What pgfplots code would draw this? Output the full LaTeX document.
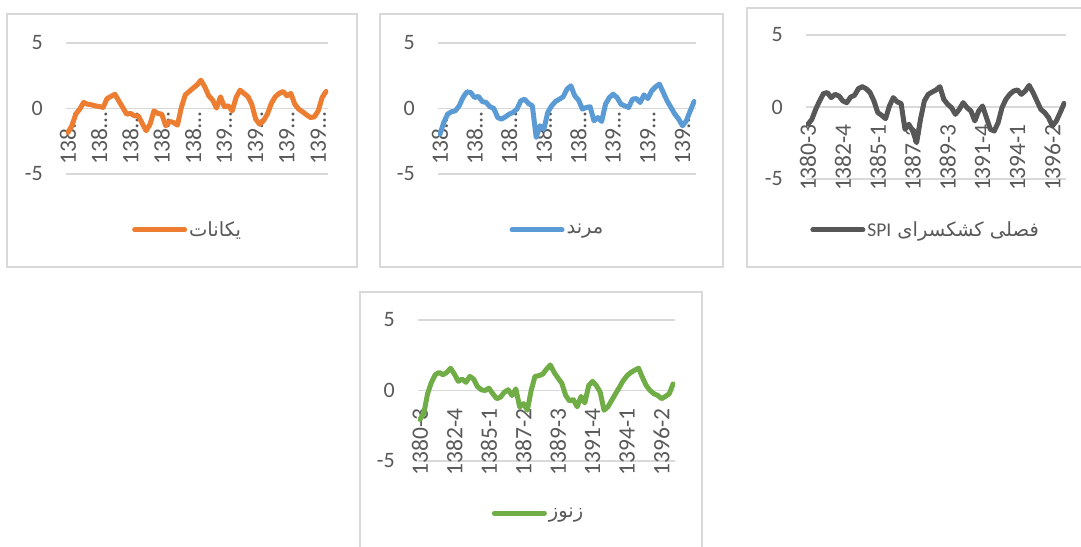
\documentclass[border=0pt]{standalone}
\usepackage{fontspec}
\setmainfont{Carlito}
\newfontfamily\arabicfont[Script=Arabic]{DejaVu Sans}
\usepackage{pgfplots}
\pgfplotsset{compat=1.18}
\TeXXeTstate=1
\definecolor{cOrange}{HTML}{ED7D31}
\definecolor{cBlue}{HTML}{5B9BD5}
\definecolor{cGray}{HTML}{575757}
\definecolor{cGreen}{HTML}{70AD47}
\definecolor{gridc}{HTML}{D9D9D9}
\definecolor{txt}{HTML}{595959}
\newcommand\tfont{\fontsize{22bp}{25bp}\selectfont}
\newcommand\xfont{\fontsize{23.5bp}{26bp}\selectfont}
\pgfplotsset{
  panel/.style={
    scale only axis,
    axis x line*=middle, axis y line*=left,
    axis line style={draw=none},
    hide obscured x ticks=false, hide obscured y ticks=false,
    major tick length=0pt,
    ymin=-5, ymax=5, xmin=-0.5, xmax=66.5,
    ytick={-5,0,5}, yticklabels={-5,0,5},
    ymajorgrids, grid style={gridc, line width=1.3bp},
    tick label style={font=\tfont, text=txt},
    x tick label style={font=\xfont},
    yticklabel style={inner sep=0pt, anchor=east, xshift=-23bp},
    legend style={draw=none, fill=none, font=\fontsize{19.5bp}{22bp}\selectfont\arabicfont, text=txt, anchor=center},
    legend image code/.code={\draw[#1, line width=5bp, line cap=round] (0bp,0bp) -- (50bp,0bp);},
    every axis plot/.append style={line width=5bp, line join=round, line cap=round, mark=none},
  }
}
\begin{document}
\begin{tikzpicture}[x=1bp,y=1bp]
\useasboundingbox (0,0) rectangle (1081,547);
\clip (0,0) rectangle (1081,547);
\fill[white] (0,0) rectangle (1081,547);
\draw[gridc, line width=1.2bp] (7,280) rectangle (357,533);
\draw[gridc, line width=1.2bp] (380,280) rectangle (723,533);
\draw[gridc, line width=1.2bp] (747,280) rectangle (1095,539);
\draw[gridc, line width=1.2bp] (360,-10) rectangle (702,255);

% Panel 1
\begin{axis}[panel, at={(66bp,373bp)}, anchor=south west, width=262bp, height=131bp,
  xtick={0,8,16,24,32,40,48,56,64},
  xticklabels={138…,138…,138…,138…,138…,139…,139…,139…,139…},
  xticklabel style={yshift=-4bp, rotate=90, anchor=east, inner sep=0pt},
  legend style={at={(0.464,-0.427)}}]
\addplot[cOrange] coordinates {
(0,-1.83)(1,-1.32)(2,-0.43)(3,-0.05)(4,0.46)(5,0.33)(6,0.28)(7,0.20)(8,0.15)(9,0.08)
(10,0.76)(11,0.92)(12,1.09)(13,0.58)(14,0.08)(15,-0.43)(16,-0.38)(17,-0.56)(18,-0.56)(19,-1.15)
(20,-1.70)(21,-1.20)(22,-0.18)(23,-0.38)(24,-0.43)(25,-1.32)(26,-0.99)(27,-1.07)(28,-1.27)(29,0.08)
(30,1.04)(31,1.30)(32,1.55)(33,1.80)(34,2.16)(35,1.65)(36,0.97)(37,0.64)(38,0.03)(39,0.89)
(40,0.13)(41,0.20)(42,-0.18)(43,0.84)(44,1.40)(45,1.15)(46,0.92)(47,0.33)(48,-0.81)(49,-1.20)
(50,-0.94)(51,-0.43)(52,0.38)(53,0.89)(54,1.15)(55,1.30)(56,0.97)(57,1.15)(58,0.33)(59,-0.05)
(60,-0.25)(61,-0.48)(62,-0.69)(63,-0.64)(64,-0.18)(65,0.84)(66,1.30)};
\addlegendentry{\beginR یکانات\endR}
\end{axis}

% Panel 2
\begin{axis}[panel, at={(438bp,373bp)}, anchor=south west, width=258bp, height=131bp,
  xtick={0,9,18,27,36,45,54,63},
  xticklabels={138…,138…,138…,138…,138…,139…,139…,139…},
  xticklabel style={yshift=-4bp, rotate=90, anchor=east, inner sep=0pt},
  legend style={at={(0.463,-0.427)}}]
\addplot[cBlue] coordinates {
(0,-1.96)(1,-1.07)(2,-0.43)(3,-0.25)(4,-0.18)(5,0.20)(6,0.84)(7,1.27)(8,1.22)(9,0.84)
(10,0.92)(11,0.53)(12,0.46)(13,0.13)(14,0.00)(15,-0.69)(16,-0.81)(17,-0.64)(18,-0.43)(19,-0.30)
(20,-0.05)(21,0.58)(22,0.71)(23,0.38)(24,0.20)(25,-2.21)(26,-1.32)(27,-1.58)(28,-0.30)(29,0.20)
(30,0.53)(31,0.71)(32,0.89)(33,1.48)(34,1.73)(35,0.97)(36,0.64)(37,-0.05)(38,0.08)(39,0.13)
(40,-0.94)(41,-0.69)(42,-0.99)(43,0.33)(44,0.84)(45,1.09)(46,0.84)(47,0.33)(48,0.20)(49,0.08)
(50,0.71)(51,0.76)(52,0.46)(53,1.04)(54,0.76)(55,1.35)(56,1.65)(57,1.86)(58,1.22)(59,0.58)
(60,0.08)(61,-0.43)(62,-0.81)(63,-1.32)(64,-0.94)(65,-0.18)(66,0.53)};
\addlegendentry{\beginR مرند\endR}
\end{axis}

% Panel 3
\begin{axis}[panel, at={(806bp,368bp)}, anchor=south west, width=260bp, height=144bp,
  xtick={0,9,18,27,36,45,54,63},
  xticklabels={1380-3,1382-4,1385-1,1387-2,1389-3,1391-4,1394-1,1396-2},
  xticklabel style={yshift=-17bp, rotate=90, anchor=east, inner sep=0pt},
  legend style={at={(0.46,-0.354)}}]
\addplot[cGray] coordinates {
(0,-1.20)(1,-0.86)(2,-0.16)(3,0.42)(4,0.93)(5,1.00)(6,0.65)(7,0.88)(8,0.76)(9,0.42)
(10,0.30)(11,0.69)(12,0.81)(13,1.27)(14,1.41)(15,1.27)(16,1.00)(17,0.42)(18,-0.39)(19,-0.58)
(20,-0.81)(21,0.07)(22,0.65)(23,0.35)(24,0.25)(25,-1.55)(26,-1.20)(27,-1.67)(28,-2.48)(29,-0.86)
(30,0.42)(31,0.88)(32,1.04)(33,1.18)(34,1.41)(35,0.53)(36,0.19)(37,-0.05)(38,-0.51)(39,-0.16)
(40,0.30)(41,-0.05)(42,-0.28)(43,-0.97)(44,-0.28)(45,0.07)(46,-0.74)(47,-1.55)(48,-1.67)(49,-1.09)
(50,-0.05)(51,0.53)(52,0.88)(53,1.11)(54,1.18)(55,0.88)(56,1.11)(57,1.50)(58,1.00)(59,0.42)
(60,-0.16)(61,-0.39)(62,-0.74)(63,-1.32)(64,-0.97)(65,-0.39)(66,0.25)};
\addlegendentry{\beginR فصلی کشکسرای \beginL{\rmfamily SPI}\endL\endR}
\end{axis}

% Panel 4
\begin{axis}[panel, at={(418bp,86bp)}, anchor=south west, width=257bp, height=141bp,
  xtick={0,9,18,27,36,45,54,63},
  xticklabels={1380-3,1382-4,1385-1,1387-2,1389-3,1391-4,1394-1,1396-2},
  xticklabel style={yshift=-18bp, rotate=90, anchor=east, inner sep=0pt},
  legend style={at={(0.469,-0.369)}}]
\addplot[cGreen] coordinates {
(0,-2.05)(1,-1.63)(2,-0.23)(3,0.58)(4,1.12)(5,1.28)(6,1.12)(7,1.28)(8,1.58)(9,1.16)
(10,0.65)(11,0.81)(12,0.58)(13,1.00)(14,0.81)(15,0.28)(16,0.05)(17,0.00)(18,0.16)(19,-0.23)
(20,-0.58)(21,-0.47)(22,-0.12)(23,0.05)(24,-0.35)(25,0.12)(26,-1.16)(27,-0.93)(28,-1.40)(29,0.00)
(30,1.00)(31,1.05)(32,1.16)(33,1.51)(34,1.81)(35,1.28)(36,0.88)(37,0.51)(38,-0.35)(39,-0.74)
(40,-0.65)(41,-1.16)(42,-0.42)(43,-0.88)(44,0.35)(45,0.65)(46,0.35)(47,-0.12)(48,-1.40)(49,-1.16)
(50,-0.70)(51,-0.23)(52,0.23)(53,0.70)(54,1.05)(55,1.28)(56,1.44)(57,1.58)(58,0.93)(59,0.35)
(60,0.00)(61,-0.23)(62,-0.35)(63,-0.58)(64,-0.42)(65,-0.23)(66,0.47)};
\addlegendentry{\beginR زنوز\endR}
\end{axis}
\end{tikzpicture}
\end{document}
